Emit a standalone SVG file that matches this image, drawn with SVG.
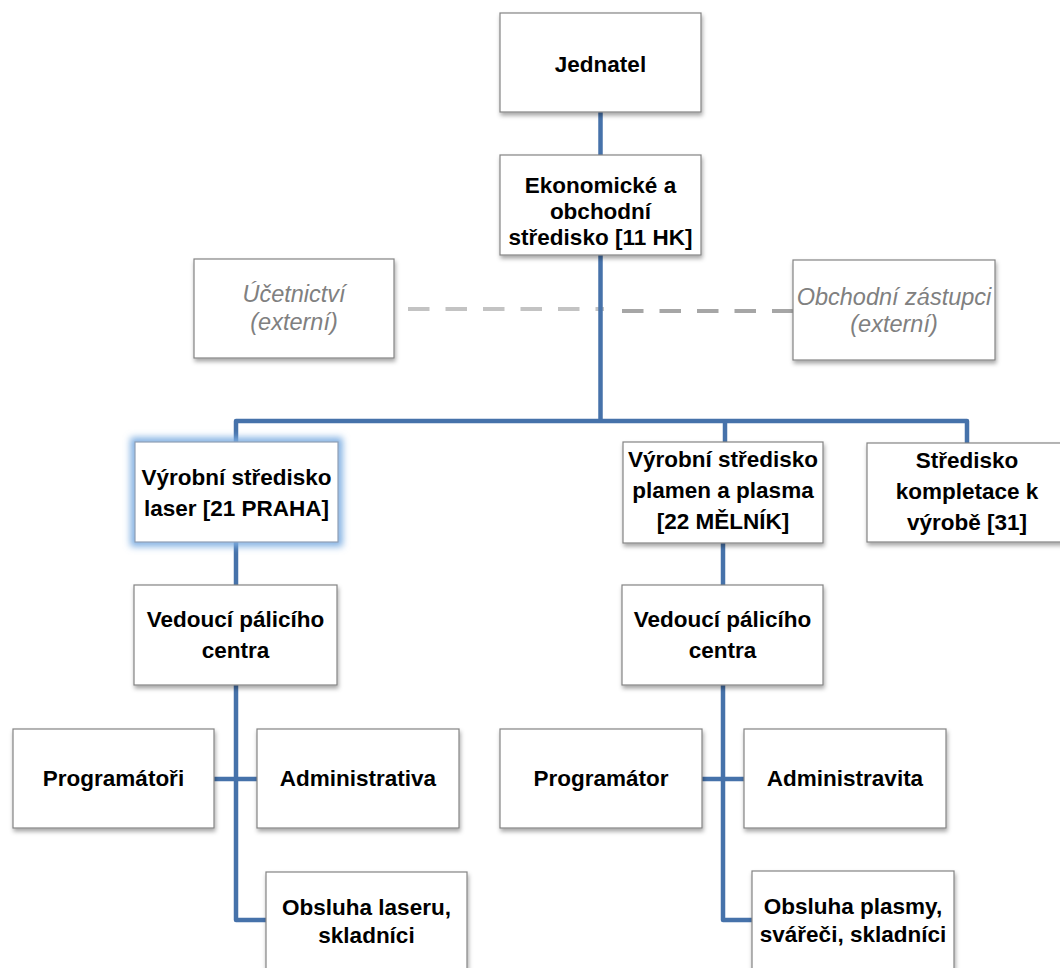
<svg xmlns="http://www.w3.org/2000/svg" width="1060" height="968" viewBox="0 0 1060 968">
<defs>
<filter id="sh" x="-10%" y="-10%" width="125%" height="130%">
<feDropShadow dx="1" dy="3" stdDeviation="2" flood-color="#000" flood-opacity="0.35"/>
</filter>
<filter id="glow" x="-20%" y="-20%" width="140%" height="140%">
<feGaussianBlur stdDeviation="3.5"/>
</filter>
<style>
.box{fill:#fff;stroke:#848484;stroke-width:1.2;filter:url(#sh)}
.t{font-family:"Liberation Sans",Arial,sans-serif;font-weight:bold;font-size:22.5px;fill:#000;text-anchor:middle}
.ti{font-family:"Liberation Sans",Arial,sans-serif;font-style:italic;font-size:23.5px;fill:#808080;text-anchor:middle}
.c{fill:none;stroke:#4672aa;stroke-width:4.5;stroke-linejoin:round}
.d1{fill:none;stroke:#c3c3c3;stroke-width:4;stroke-dasharray:21.5 16}
.d2{fill:none;stroke:#a6a6a6;stroke-width:4;stroke-dasharray:21.5 16}
</style>
</defs>
<rect width="1060" height="968" fill="#fff"/>
<g id="connectors">
<path class="d1" d="M408 309 H604"/>
<path class="d2" d="M622 311 H793"/>
<path class="c" d="M600.5 112 V155"/>
<path class="c" d="M600.5 255 V421"/>
<path class="c" d="M236 442 V421 H967 V443"/>
<path class="c" d="M725 421 V442"/>
<path class="c" d="M236 542 V585"/>
<path class="c" d="M236 685 V920 H266"/>
<path class="c" d="M214 779 H257"/>
<path class="c" d="M723 543 V585"/>
<path class="c" d="M723 685 V920 H752"/>
<path class="c" d="M702 779 H744"/>
</g>
<g id="jednatel">
<rect class="box" x="500" y="13" width="201" height="99"/>
<text class="t" x="600.5" y="72">Jednatel</text>
</g>
<g id="ekonomicke">
<rect class="box" x="500" y="155" width="201" height="100"/>
<text class="t" x="600.5" y="193">Ekonomické a</text>
<text class="t" x="600.5" y="219">obchodní</text>
<text class="t" x="600.5" y="245">středisko [11 HK]</text>
</g>
<g id="ucetnictvi">
<rect class="box" x="194" y="259" width="200" height="99"/>
<text class="ti" x="294" y="302">Účetnictví</text>
<text class="ti" x="294" y="330">(externí)</text>
</g>
<g id="obchodni-zastupci">
<rect class="box" x="793" y="260" width="202" height="100"/>
<text class="ti" x="894" y="305">Obchodní zástupci</text>
<text class="ti" x="894" y="332">(externí)</text>
</g>
<g id="vyrobni-laser">
<rect x="135" y="442" width="203" height="100" fill="none" stroke="#7eaee2" stroke-width="9" filter="url(#glow)"/>
<rect x="135" y="442" width="203" height="100" fill="#fff" stroke="#8f9fb5" stroke-width="1.2"/>
<text class="t" x="236.5" y="485">Výrobní středisko</text>
<text class="t" x="236.5" y="516">laser [21 PRAHA]</text>
</g>
<g id="vyrobni-plasma">
<rect class="box" x="623" y="442" width="200" height="101"/>
<text class="t" x="723" y="467">Výrobní středisko</text>
<text class="t" x="723" y="498">plamen a plasma</text>
<text class="t" x="723" y="529">[22 MĚLNÍK]</text>
</g>
<g id="kompletace">
<rect class="box" x="867" y="443" width="200" height="99"/>
<text class="t" x="967" y="468">Středisko</text>
<text class="t" x="967" y="499">kompletace k</text>
<text class="t" x="967" y="530">výrobě [31]</text>
</g>
<g id="vedouci-1">
<rect class="box" x="134" y="585" width="203" height="100"/>
<text class="t" x="235.5" y="627">Vedoucí pálicího</text>
<text class="t" x="235.5" y="658">centra</text>
</g>
<g id="vedouci-2">
<rect class="box" x="622" y="585" width="201" height="100"/>
<text class="t" x="722.5" y="627">Vedoucí pálicího</text>
<text class="t" x="722.5" y="658">centra</text>
</g>
<g id="programatori">
<rect class="box" x="13" y="729" width="201" height="99"/>
<text class="t" x="113.5" y="786">Programátoři</text>
</g>
<g id="administrativa">
<rect class="box" x="257" y="729" width="202" height="99"/>
<text class="t" x="358" y="786">Administrativa</text>
</g>
<g id="obsluha-laseru">
<rect class="box" x="266" y="872" width="201" height="110"/>
<text class="t" x="366.5" y="915">Obsluha laseru,</text>
<text class="t" x="366.5" y="943">skladníci</text>
</g>
<g id="programator">
<rect class="box" x="500" y="729" width="202" height="99"/>
<text class="t" x="601" y="786">Programátor</text>
</g>
<g id="administravita">
<rect class="box" x="744" y="729" width="202" height="99"/>
<text class="t" x="845" y="786">Administravita</text>
</g>
<g id="obsluha-plasmy">
<rect class="box" x="752" y="871" width="202" height="110"/>
<text class="t" x="853" y="914">Obsluha plasmy,</text>
<text class="t" x="853" y="942">svářeči, skladníci</text>
</g>
</svg>
